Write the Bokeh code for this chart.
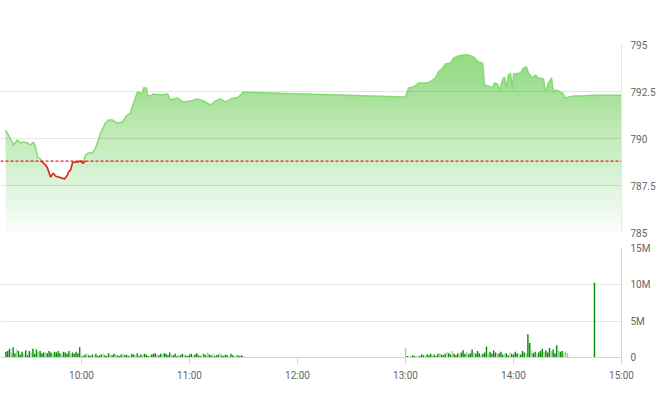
import numpy as np
from bokeh.plotting import figure
from bokeh.layouts import column
from bokeh.models import ColumnDataSource, Range1d, FixedTicker, Span
from bokeh.transform import factor_cmap
from bokeh.embed import file_html
from bokeh.resources import INLINE

# ---------------- data ----------------
price_times = [
    "09:17:48", "09:19:24", "09:21:42", "09:22:12", "09:24:24", "09:26:06", "09:27:48", "09:30:00",
    "09:31:42", "09:33:18", "09:34:24", "09:35:36", "09:37:12", "09:38:18", "09:40:00", "09:41:06",
    "09:42:48", "09:44:24", "09:45:36", "09:47:12", "09:50:36", "09:52:12", "09:52:48", "09:53:54",
    "09:55:00", "09:55:36", "09:57:48", "09:59:24", "10:00:36", "10:01:06", "10:02:12", "10:03:54",
    "10:06:06", "10:07:48", "10:09:24", "10:10:36", "10:13:18", "10:15:00", "10:17:12", "10:20:00",
    "10:22:48", "10:24:24", "10:27:12", "10:28:54", "10:31:06", "10:32:48", "10:33:54", "10:34:24",
    "10:36:06", "10:36:42", "10:38:18", "10:40:00", "10:43:54", "10:47:48", "10:49:24", "10:51:06",
    "10:53:18", "10:56:42", "11:00:36", "11:04:24", "11:07:48", "11:11:42", "11:14:24", "11:17:12",
    "11:20:00", "11:22:48", "11:25:36", "11:27:12", "11:30:00",
    "13:00:00", "13:01:42", "13:04:24", "13:07:12", "13:09:24", "13:12:12", "13:15:00", "13:16:42",
    "13:18:18", "13:20:36", "13:22:12", "13:25:00", "13:26:42", "13:29:24", "13:32:12", "13:35:00",
    "13:37:48", "13:40:36", "13:42:48", "13:43:54", "13:46:06", "13:48:18", "13:49:24", "13:51:06",
    "13:52:12", "13:53:54", "13:55:00", "13:56:06", "13:57:12", "13:58:18", "13:59:24", "14:00:00",
    "14:03:54", "14:05:36", "14:07:12", "14:08:18", "14:10:36", "14:12:12", "14:13:54", "14:16:42",
    "14:17:48", "14:19:24", "14:21:06", "14:22:12", "14:23:18", "14:25:00", "14:27:12", "14:28:54",
    "14:30:36", "14:33:18", "14:37:12", "14:45:00", "15:00:00",
]
prices = [
    790.45, 790.19, 789.76, 789.65, 789.92, 789.76, 789.81, 789.76,
    789.65, 789.81, 789.55, 789.02, 788.91, 788.75, 788.59, 788.43,
    787.95, 788.16, 788.00, 787.95, 787.85, 788.06, 788.22, 788.32,
    788.70, 788.75, 788.75, 788.80, 788.70, 788.70, 789.12, 789.23,
    789.23, 789.49, 789.92, 790.29, 790.82, 790.98, 790.98, 790.82,
    790.88, 791.14, 791.36, 791.89, 792.47, 792.42, 792.37, 792.69,
    792.69, 792.31, 792.26, 792.37, 792.31, 792.37, 792.05, 792.10,
    792.15, 791.94, 792.00, 792.10, 792.00, 791.78, 792.00, 792.10,
    791.94, 792.10, 792.15, 792.21, 792.47,
    792.21, 792.69, 792.74, 792.95, 792.95, 792.95, 793.11, 793.22,
    793.54, 793.75, 793.96, 794.02, 794.28, 794.39, 794.44, 794.44,
    794.34, 794.07, 794.02, 792.85, 792.79, 792.69, 792.95, 792.90,
    792.58, 793.11, 793.27, 792.69, 793.38, 793.48, 792.58, 793.43,
    793.48, 793.75, 793.80, 793.48, 793.22, 793.38, 793.22, 793.16,
    792.42, 792.95, 793.22, 792.42, 792.58, 792.53, 792.42, 792.15,
    792.21, 792.26, 792.26, 792.30, 792.30,
]
ref_price = 788.8

# one-minute volume bars (millions of shares)
am_start = "09:18"
am_volume = [
    0.8, 0.9, 1.2, 0.7, 1.4, 0.6, 1.1, 0.9, 0.4, 0.8,
    0.5, 1.0, 0.3, 0.9, 0.7, 1.2, 0.5, 1.1, 0.8, 0.9,
    0.6, 0.7, 0.8, 0.6, 0.9, 0.7, 0.5, 0.8, 0.7, 0.9,
    0.6, 0.4, 0.8, 0.7, 0.5, 0.9, 0.6, 0.7, 0.5, 0.8,
    0.6, 1.4,
    0.3, 0.2, 0.4, 0.5, 0.3, 0.2, 0.4, 0.3, 0.5, 0.2,
    0.3, 0.4, 0.5, 0.3, 0.2, 0.6, 0.4, 0.3, 0.5, 0.4,
    0.3, 0.2, 0.4, 0.5, 0.3, 0.4, 0.2, 0.3, 0.5, 0.4,
    0.3, 0.6, 0.2, 0.4, 0.3, 0.5, 0.4, 0.2, 0.3, 0.4,
    0.5, 0.6, 0.4, 0.3, 0.5, 0.4, 0.6, 0.5, 0.3, 0.7,
    0.4, 0.3, 0.5, 0.2, 0.4, 0.3, 0.5, 0.4, 0.3, 0.2,
    0.4, 0.5, 0.3, 0.4, 0.6, 0.3, 0.2, 0.4, 0.5, 0.3,
    0.7, 0.4, 0.3, 0.5, 0.2, 0.3, 0.4, 0.6, 0.3, 0.2,
    0.4, 0.3, 0.2, 0.5, 0.3, 0.2, 0.4, 0.3, 0.2, 0.3,
    0.2,
]
am_side = list(
    "uuuduuduuu" "duuuduuudu" "uuduuuduuu" "uduuuuduuu" "uu"
    "duuduuuduu" "uuduuuduud" "uuuduuuduu" "duuuduuudu" "uuduuduuuu"
    "duuuduuduu" "uuduuuuduu" "duuduuuduu" "uuduudduuu" "d"
)
pm_start = "13:00"
pm_volume = [
    1.3, 0.2, 0.1, 0.2, 0.3, 0.2, 0.1, 0.3, 0.2, 0.4,
    0.3, 0.2, 0.4, 0.3, 0.5, 0.3, 0.4, 0.2, 0.5, 0.6,
    0.4, 0.3, 0.5, 0.8, 0.6, 0.4, 0.9, 0.5, 0.3, 0.6,
    0.4, 0.7, 1.0, 0.5, 0.8, 0.4, 0.6, 1.1, 0.7, 0.5,
    0.9, 0.6, 0.4, 0.5, 0.7, 1.5, 0.6, 0.8, 0.5, 1.0,
    0.7, 0.5, 0.6, 0.8, 0.4, 0.5, 0.6, 0.3, 0.7, 0.5,
    0.4, 0.8, 0.6, 0.5, 0.4, 0.9, 0.7, 0.6, 3.2, 2.0,
    1.0, 0.6, 0.8, 0.5, 0.7, 0.9, 1.2, 0.8, 1.0, 0.7,
    1.3, 0.9, 1.1, 0.6, 1.7, 1.0, 0.8, 0.9, 0.7, 0.8,
    0.6,
]
pm_side = list(
    "duuduuuduu" "uduuuduuud" "uuuduuduuu" "duuuduuudu" "uuduuuduuu"
    "uduuuduudu" "uuuduuuduu" "duuduuuduu" "uduuuduudd" "d"
)
close_times = ["14:45", "14:48", "14:51", "14:54", "14:58"]
close_volume = [10.3, 0.08, 0.08, 0.08, 0.08]
close_side = ["u", "d", "d", "d", "d"]

time_ticks = ["10:00", "11:00", "12:00", "13:00", "14:00", "15:00"]
price_ticks = [785.0, 787.5, 790.0, 792.5, 795.0]
price_tick_labels = ["785", "787.5", "790", "792.5", "795"]
vol_ticks = [0.0, 5.0, 10.0, 15.0]
vol_tick_labels = ["0", "5M", "10M", "15M"]


def to_min(s):
    parts = [int(v) for v in s.split(":")]
    sec = parts[2] if len(parts) > 2 else 0
    return parts[0] * 60 + parts[1] + sec / 60.0


t = np.array([to_min(s) for s in price_times])
p = np.array(prices)

vt = np.concatenate([
    to_min(am_start) + np.arange(len(am_volume)),
    to_min(pm_start) + np.arange(len(pm_volume)),
    np.array([to_min(s) for s in close_times]),
])
vv = np.array(am_volume + pm_volume + close_volume)
vs = am_side[:len(am_volume)] + pm_side[:len(pm_volume)] + close_side
vs = vs + ["u"] * (len(vv) - len(vs))

# ---------------- style ----------------
FONT = "Roboto"
LABEL_COLOR = "#666666"
GRID = "#e6e6e6"
AXIS_BLUE = "#ccd6eb"
FILL_BASE = "#50d73c"
LINE_GREEN = "#84dc72"
RED = "#f01a1a"
W = 660
BR = 39

x_rng = Range1d(555.0, 900.0)

p1 = figure(width=W, height=240, x_range=x_rng, y_range=Range1d(785, 795),
            output_backend="svg", toolbar_location=None,
            min_border_top=44, min_border_bottom=8, min_border_left=0,
            min_border_right=BR, x_axis_location=None, y_axis_location="right")
p1.outline_line_color = None
p1.xgrid.visible = False
p1.ygrid.grid_line_color = GRID
p1.ygrid.ticker = FixedTicker(ticks=price_ticks)
ya = p1.yaxis[0]
ya.ticker = FixedTicker(ticks=price_ticks)
ya.major_label_overrides = {k: v for k, v in zip(price_ticks, price_tick_labels)}
ya.axis_line_color = GRID
ya.major_tick_in = 0
ya.major_tick_out = 0
ya.minor_tick_in = 0
ya.minor_tick_out = 0
ya.major_label_standoff = 9
ya.major_label_text_font = FONT
ya.major_label_text_font_size = "10px"
ya.major_label_text_color = LABEL_COLOR

# gradient-like fill: stacked translucent layers from each level up to the price line
levels = np.arange(785.0, 794.76, 0.25)
prev_T = 1.0
for lo in levels:
    A = min(0.62, 0.03 + (lo - 785.0) / 9.5 * 0.56)
    T = 1.0 - A
    alpha = 1.0 - T / prev_T
    prev_T = T
    top = np.maximum(p, lo)
    if np.all(top <= lo):
        continue
    p1.varea(x=t, y1=np.full_like(t, lo), y2=top, fill_color=FILL_BASE,
             fill_alpha=alpha)

p1.line(t, p, line_color=LINE_GREEN, line_width=1.5)
below = p < ref_price
ext = below.copy()
ext[1:] |= below[:-1]
ext[:-1] |= below[1:]
red_y = np.where(ext, np.minimum(p, ref_price), np.nan)
p1.line(t, red_y, line_color=RED, line_width=1.5)
p1.add_layout(Span(location=ref_price, dimension="width", line_color=RED,
                   line_dash="3 2", line_width=1.2))

# volume
p2 = figure(width=W, height=147, x_range=x_rng, y_range=Range1d(0, 15),
            output_backend="svg", toolbar_location=None,
            min_border_top=8, min_border_bottom=30, min_border_left=0,
            min_border_right=BR, y_axis_location="right")
p2.outline_line_color = None
p2.xgrid.visible = False
p2.ygrid.grid_line_color = GRID
p2.ygrid.ticker = FixedTicker(ticks=vol_ticks)
src = ColumnDataSource(dict(t=vt, v=vv, side=vs))
p2.vbar(x="t", top="v", width=0.8, source=src, line_color=None,
        fill_color=factor_cmap("side", palette=["#0c8a0c", "#9fd49f"], factors=["u", "d"]))

xa = p2.xaxis[0]
tick_vals = [to_min(s) for s in time_ticks]
xa.ticker = FixedTicker(ticks=tick_vals)
xa.major_label_overrides = {k: v for k, v in zip(tick_vals, time_ticks)}
xa.axis_line_color = AXIS_BLUE
xa.major_tick_line_color = AXIS_BLUE
xa.major_tick_in = 0
xa.major_tick_out = 7
xa.minor_tick_in = 0
xa.minor_tick_out = 0
xa.major_label_standoff = 5
xa.major_label_text_font = FONT
xa.major_label_text_font_size = "10px"
xa.major_label_text_color = LABEL_COLOR

va = p2.yaxis[0]
va.ticker = FixedTicker(ticks=vol_ticks)
va.major_label_overrides = {k: v for k, v in zip(vol_ticks, vol_tick_labels)}
va.axis_line_color = AXIS_BLUE
va.major_tick_in = 0
va.major_tick_out = 0
va.minor_tick_in = 0
va.minor_tick_out = 0
va.major_label_standoff = 9
va.major_label_text_font = FONT
va.major_label_text_font_size = "10px"
va.major_label_text_color = LABEL_COLOR

layout = column(p1, p2)
open("out.html", "w").write(file_html(layout, INLINE))
